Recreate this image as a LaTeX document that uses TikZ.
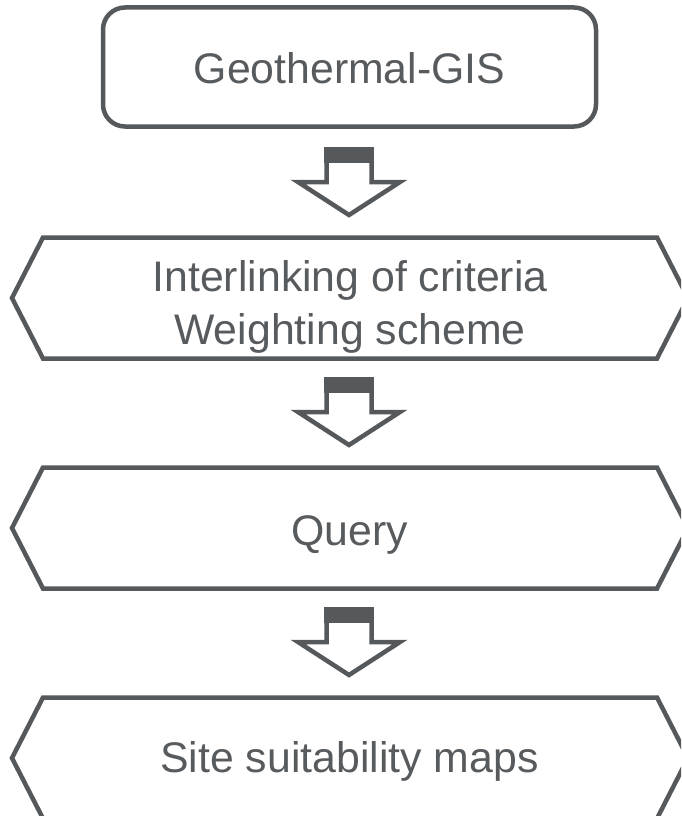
\documentclass[tikz,border=0pt]{standalone}
\usepackage{fontspec}
\setmainfont{Liberation Sans}
\definecolor{dk}{RGB}{85,89,92}
\definecolor{tx}{RGB}{88,91,94}
\begin{document}
\begin{tikzpicture}[x=1pt,y=-1pt,
  outl/.style={draw=dk,line width=4.5pt},
  lbl/.style={text=tx,inner sep=0pt,font=\fontsize{42.8}{53}\selectfont,align=center},
  ]
\useasboundingbox (0,0) rectangle (681,816);
\clip (0,0) rectangle (681,816);
% top box
\draw[outl,rounded corners=22pt] (103,7.5) rectangle (596,126.5);
\node[lbl,anchor=base] (gis) at (349.5,84) {Geothermal-GIS};
% hexagons
\newcommand{\hexa}[3]{\draw[outl] (43,#1) -- (657,#1) -- (688,#2) -- (657,#3) -- (43,#3) -- (12,#2) -- cycle;}
\hexa{237.5}{298}{358.5}
\hexa{467.5}{528}{588.5}
\hexa{697.5}{758}{818.5}
\node[lbl,anchor=center] (crit) at (350,306.5) {Interlinking of criteria\\Weighting scheme};
\node[lbl,anchor=base] (query) at (349.5,545) {Query};
\node[lbl,anchor=base] (site) at (349.5,772) {Site suitability maps};
% arrows
\newcommand{\bigarrow}[1]{%
  \begin{scope}[shift={(0,#1)}]
  \fill[dk] (324,0) rectangle (374,16);
  \draw[outl] (326.5,10) -- (326.5,35) -- (298,35) -- (349,68) -- (400,35) -- (371.5,35) -- (371.5,10);
  \end{scope}}
\bigarrow{147}
\bigarrow{377}
\bigarrow{607}
\end{tikzpicture}
\end{document}
